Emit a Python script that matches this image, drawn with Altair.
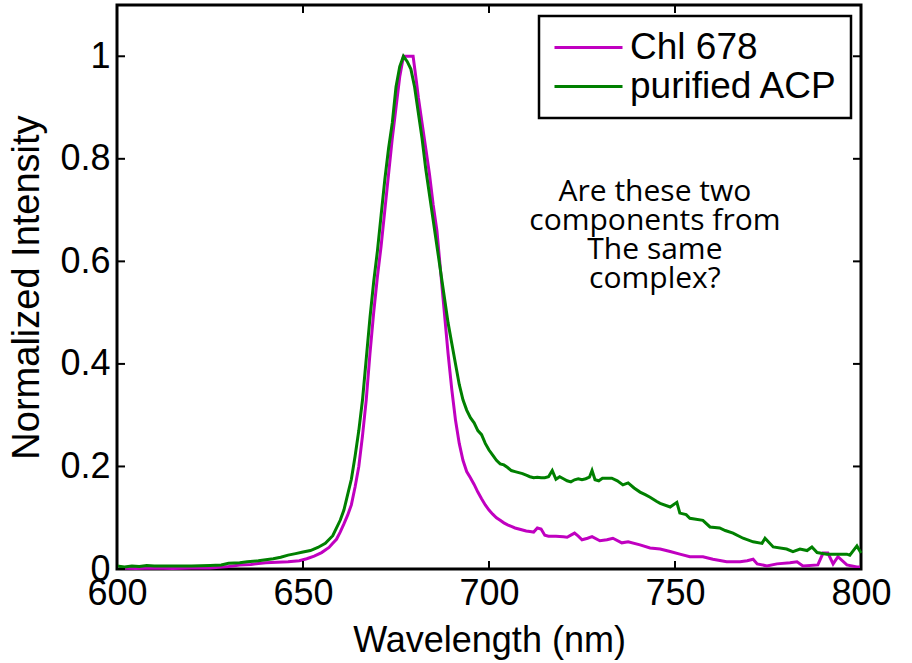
import altair as alt
import pandas as pd

# ---- data ----
chl_wl = [600, 605, 610, 615, 620, 625, 630, 633, 636, 640, 643, 646, 649, 651, 653, 655, 657, 658, 659,
          660, 661, 662, 663, 664, 665, 666, 667, 668, 669, 670, 671, 672, 673, 674, 675, 676, 677, 678,
          679.6, 680.5, 681, 682, 683, 684, 685, 686, 687, 688, 689, 690, 691, 692, 693, 694, 695, 696,
          697, 698, 699, 700, 701, 702, 703, 704, 705, 706, 707, 708, 709, 710, 711, 712, 713, 714, 715,
          716, 718, 720, 721, 722, 723, 724, 725, 726.5, 727.7, 729.8, 731.7, 733.3, 735.7, 737.4, 740.6,
          743.3, 746, 748.7, 751.3, 754, 757.5, 760.2, 763.9, 767.5, 769.4, 771, 772.1, 774.7, 777.4,
          780.9, 782.8, 784.4, 788.4, 789.8, 791.1, 792.5, 793.8, 796.2, 798.9, 800]
chl_val = [0.002, 0.001, 0.002, 0.001, 0.002, 0.002, 0.005, 0.008, 0.009, 0.012, 0.013, 0.014, 0.016,
           0.020, 0.025, 0.032, 0.042, 0.050, 0.058, 0.072, 0.088, 0.105, 0.125, 0.16, 0.20, 0.26, 0.33,
           0.42, 0.50, 0.57, 0.63, 0.70, 0.77, 0.84, 0.90, 0.96, 1.0, 1.0, 1.0, 0.95, 0.92, 0.87, 0.82,
           0.77, 0.71, 0.66, 0.58, 0.50, 0.42, 0.35, 0.29, 0.245, 0.212, 0.19, 0.178, 0.165, 0.15, 0.137,
           0.125, 0.115, 0.107, 0.100, 0.095, 0.090, 0.086, 0.083, 0.080, 0.078, 0.076, 0.074, 0.073,
           0.072, 0.080, 0.078, 0.066, 0.064, 0.064, 0.063, 0.062, 0.066, 0.070, 0.064, 0.057, 0.060,
           0.063, 0.055, 0.057, 0.060, 0.051, 0.053, 0.047, 0.041, 0.039, 0.034, 0.029, 0.024, 0.024,
           0.019, 0.014, 0.014, 0.016, 0.019, 0.010, 0.006, 0.010, 0.012, 0.014, 0.006, 0.008, 0.031,
           0.031, 0.010, 0.024, 0.008, 0.004, 0.004]

acp_wl = [600, 602, 604, 606, 608, 610, 615, 620, 625, 628, 630, 633, 635, 638, 640, 642, 644, 646, 648,
          650, 652, 654, 656, 658, 660, 661, 662, 663, 664, 665, 666, 667, 668, 669, 670, 671, 672, 673,
          674, 675, 676, 677, 678, 679, 680, 681, 682, 683, 684, 685, 686, 687, 688, 689, 690, 691, 692,
          693, 694, 695, 696, 697, 698, 699, 700, 701, 702, 703, 704, 705, 706, 707, 708, 709, 710, 711,
          712, 713, 714, 715, 716, 717, 718, 719, 720, 721, 722, 723, 724, 725, 726, 727, 727.7, 728.5,
          729.5, 730.5, 733, 734.5, 736, 737.4, 739, 740.6, 742, 743.3, 745, 746, 748.7, 750.5, 751.3,
          753, 754, 757.5, 759.4, 762, 763.5, 765.6, 768.3, 771, 773.4, 774.2, 776.4, 780, 781.7, 783.6,
          785.5, 786.8, 788.2, 790.8, 796.2, 797, 798.9, 800]
acp_val = [0.006, 0.004, 0.006, 0.005, 0.007, 0.006, 0.006, 0.006, 0.007, 0.008, 0.011, 0.012, 0.014,
           0.016, 0.018, 0.020, 0.023, 0.027, 0.030, 0.033, 0.036, 0.042, 0.050, 0.065, 0.095, 0.115,
           0.145, 0.175, 0.22, 0.27, 0.33, 0.41, 0.49, 0.56, 0.62, 0.69, 0.76, 0.82, 0.87, 0.94, 0.98,
           1.0, 0.99, 0.975, 0.94, 0.89, 0.84, 0.78, 0.73, 0.68, 0.63, 0.58, 0.53, 0.48, 0.44, 0.40,
           0.36, 0.33, 0.31, 0.295, 0.285, 0.27, 0.262, 0.245, 0.232, 0.222, 0.212, 0.205, 0.203, 0.198,
           0.192, 0.190, 0.188, 0.186, 0.183, 0.180, 0.178, 0.179, 0.178, 0.178, 0.180, 0.192, 0.175,
           0.180, 0.176, 0.172, 0.170, 0.174, 0.176, 0.174, 0.176, 0.179, 0.192, 0.174, 0.172, 0.177,
           0.177, 0.172, 0.164, 0.168, 0.158, 0.150, 0.145, 0.140, 0.132, 0.128, 0.121, 0.130, 0.109,
           0.106, 0.099, 0.095, 0.082, 0.080, 0.075, 0.070, 0.060, 0.053, 0.050, 0.060, 0.043, 0.039,
           0.034, 0.039, 0.036, 0.043, 0.032, 0.029, 0.029, 0.027, 0.045, 0.031]

series_names = ["Chl 678", "purified ACP"]
series_colors = ["#c000c0", "#008000"]
x_ticks = [600, 650, 700, 750, 800]
y_ticks = [0, 0.2, 0.4, 0.6, 0.8, 1.0]
note_lines = ["Are these two", "components from", "The same", "complex?"]
note_x = [744.6]
note_y = [0.735]

W, H = 744, 564
XDOM = [600, 800]
YDOM = [0, 1.1]
TICK = 8

df = pd.concat([
    pd.DataFrame({"wl": chl_wl, "val": chl_val, "series": series_names[0]}),
    pd.DataFrame({"wl": acp_wl, "val": acp_val, "series": series_names[1]}),
], ignore_index=True)

xs = alt.Scale(domain=XDOM, nice=False, zero=False)
ys = alt.Scale(domain=YDOM, nice=False, zero=False)

lines = alt.Chart(df).mark_line(strokeWidth=3).encode(
    x=alt.X("wl:Q", scale=xs, axis=alt.Axis(
        values=x_ticks, title="Wavelength (nm)", format="d",
        labelFontSize=36, titleFontSize=36, labelPadding=7, titlePadding=12,
        titleFontWeight="normal", labelColor="black", titleColor="black",
        ticks=False, domain=False, grid=False, labelFlush=False, labelOverlap=False)),
    y=alt.Y("val:Q", scale=ys, axis=alt.Axis(
        values=y_ticks, title="Normalized Intensity", format="~g",
        labelFontSize=36, titleFontSize=38, labelPadding=7, titlePadding=13,
        titleFontWeight="normal", labelColor="black", titleColor="black",
        ticks=False, domain=False, grid=False, labelFlush=False, labelOverlap=False)),
    color=alt.Color("series:N", scale=alt.Scale(domain=series_names, range=series_colors),
                    legend=alt.Legend(
                        title=None, orient="none", legendX=422, legendY=11,
                        symbolType="M-2,0H2", symbolSize=1156, symbolStrokeWidth=3,
                        symbolOffset=18,
                        labelFontSize=37, labelColor="black", labelOffset=23, labelLimit=500,
                        padding=13, rowPadding=1, strokeColor="black",
                        fillColor="white", cornerRadius=0)),
)

xt = pd.DataFrame({"t": x_ticks})
yt = pd.DataFrame({"t": y_ticks})

bt = alt.Chart(xt).mark_rule(color="black", strokeWidth=2).encode(
    x=alt.X("t:Q", scale=xs), y=alt.value(H), y2=alt.value(H - TICK))
tt = alt.Chart(xt).mark_rule(color="black", strokeWidth=2).encode(
    x=alt.X("t:Q", scale=xs), y=alt.value(0), y2=alt.value(TICK))
lt = alt.Chart(yt).mark_rule(color="black", strokeWidth=2).encode(
    y=alt.Y("t:Q", scale=ys), x=alt.value(0), x2=alt.value(TICK))
rt = alt.Chart(yt).mark_rule(color="black", strokeWidth=2).encode(
    y=alt.Y("t:Q", scale=ys), x=alt.value(W), x2=alt.value(W - TICK))

note_df = pd.DataFrame({"x": note_x, "y": note_y, "txt": ["\n".join(note_lines)]})
note = alt.Chart(note_df).mark_text(
    font="Open Sans", fontSize=30, color="black", align="center", baseline="middle",
    lineBreak="\n", lineHeight=29).encode(
    x=alt.X("x:Q", scale=xs), y=alt.Y("y:Q", scale=ys), text="txt:N")

chart = alt.layer(lines, bt, tt, lt, rt, note).properties(
    width=W, height=H,
    autosize=alt.AutoSizeParams(type="none"),
    padding={"left": 117, "top": 5, "right": 51, "bottom": 94},
).configure(
    font="Liberation Sans",
    background="white",
).configure_view(
    stroke="black", strokeWidth=3, fill="white"
).configure_legend(
    strokeWidth=2.5
)

chart.save("out.html", embed_options={"renderer": "svg", "actions": False})
